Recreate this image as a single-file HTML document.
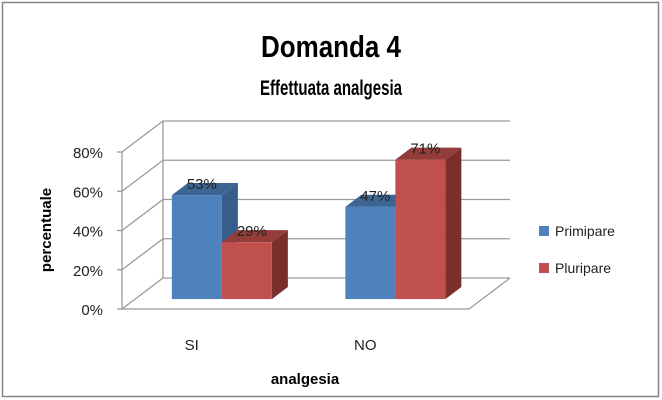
<!DOCTYPE html>
<html><head><meta charset="utf-8">
<style>
html,body{margin:0;padding:0;background:#fff;}
svg{display:block;font-family:"Liberation Sans",sans-serif;}
</style></head>
<body>
<svg id="chart" width="662" height="400" viewBox="0 0 662 400" xmlns="http://www.w3.org/2000/svg">
<rect x="2.5" y="2.5" width="656" height="394" fill="#fff" stroke="#868686" stroke-width="1.5"/>
<text x="331" y="57" text-anchor="middle" font-size="31" font-weight="bold" textLength="140" lengthAdjust="spacingAndGlyphs">Domanda 4</text>
<text x="331" y="95" text-anchor="middle" font-size="21" font-weight="bold" textLength="142" lengthAdjust="spacingAndGlyphs">Effettuata analgesia</text>
<g id="grid"></g>
<g id="axis"></g>
<g id="bars"></g>
<text transform="translate(51,230) rotate(-90)" text-anchor="middle" font-size="15" font-weight="bold">percentuale</text>
<text x="305" y="384" text-anchor="middle" font-size="15" font-weight="bold">analgesia</text>
<g>
<rect x="539" y="226" width="10" height="10" fill="#4F81BD"/>
<text x="555" y="236" font-size="14" fill="#222">Primipare</text>
<rect x="539" y="263" width="10" height="10" fill="#C0504D"/>
<text x="555" y="273" font-size="14" fill="#222">Pluripare</text>
</g>
</svg>
<script>
const categories = ["SI", "NO"];
const primipare = [53, 47];
const pluripare = [29, 71];
const tickValues = [0, 20, 40, 60, 80];
const tickLabels = ["0%", "20%", "40%", "60%", "80%"];
const labelsPrim = ["53%", "47%"];
const labelsPluri = ["29%", "71%"];

const NS = "http://www.w3.org/2000/svg";
const X0 = 122, X1 = 469, Y0 = 309, PX = 1.9625;
const DX = 41, DY = -31;
const F = 0.32, G = 0.71;
function yScale(v){ return Y0 - v * PX; }
function xCat(i){ return X0 + (X1 - X0) / categories.length * (i + 0.5); }
function mk(tag, attrs, parent){
  const e = document.createElementNS(NS, tag);
  for (const k in attrs) e.setAttribute(k, attrs[k]);
  parent.appendChild(e); return e;
}
const gridG = document.getElementById('grid');
const axisG = document.getElementById('axis');
const barsG = document.getElementById('bars');
const gc = "#9a9a9a";
tickValues.forEach((t, i) => {
  const yf = yScale(t), yb = yf + DY;
  let l = mk('line', {x1: X0 + DX, y1: yb, x2: X1 + DX, y2: yb, stroke: gc, 'stroke-width': 1.3}, gridG);
  
  
  let d = mk('line', {x1: X0, y1: yf, x2: X0 + DX, y2: yb, stroke: gc, 'stroke-width': 1.3}, gridG);
  
  
  let tk = mk('line', {x1: X0 - 5, y1: yf, x2: X0, y2: yf, stroke: gc, 'stroke-width': 1.3}, axisG);
  
  
  let tx = mk('text', {x: 103, y: yf + 6, 'text-anchor': 'end', 'font-size': 15, fill: '#222'}, axisG);
  tx.textContent = tickLabels[i];
  
  
});
const yTopVal = yScale(tickValues[tickValues.length - 1]);
let bv = mk('line', {x1: X0 + DX, y1: Y0 + DY, x2: X0 + DX, y2: yTopVal + DY, stroke: gc, 'stroke-width': 1.3}, gridG);


let fv = mk('line', {x1: X0, y1: Y0, x2: X0, y2: yTopVal, stroke: gc, 'stroke-width': 1.3}, axisG);


let fl = mk('polyline', {points: `${X0},${Y0} ${X1},${Y0} ${X1 + DX},${Y0 + DY}`, fill: 'none', stroke: gc, 'stroke-width': 1.3}, gridG);



const BW = 50;
function drawBar(cx, v, front, topC, side, name, label){
  const fx = F * DX, fy = F * DY, bx = G * DX, by = G * DY;
  const x = cx + fx, yb = Y0 + fy, yt = yScale(v) + fy;
  const ddx = bx - fx, ddy = by - fy;
  const g = mk('g', {}, barsG);
  
  
  mk('polygon', {points: `${x+BW},${yb} ${x+BW+ddx},${yb+ddy} ${x+BW+ddx},${yt+ddy} ${x+BW},${yt}`, fill: side}, g);
  mk('polygon', {points: `${x},${yt} ${x+ddx},${yt+ddy} ${x+BW+ddx},${yt+ddy} ${x+BW},${yt}`, fill: topC}, g);
  mk('rect', {x: x, y: yt, width: BW, height: yb - yt, fill: front}, g);
  const t = mk('text', {x: x + BW / 2 + 5, y: yt - 6, 'text-anchor': 'middle', 'font-size': 15, fill: '#222'}, barsG);
  t.textContent = label;
  
  
}
categories.forEach((c, i) => {
  const cx = xCat(i);
  drawBar(cx - BW, primipare[i], '#4F81BD', '#3D6592', '#385D8A', 'bar-primipare-' + c.toLowerCase(), labelsPrim[i]);
  drawBar(cx, pluripare[i], '#C0504D', '#943C3A', '#7A2F2D', 'bar-pluripare-' + c.toLowerCase(), labelsPluri[i]);
  const t = mk('text', {x: cx - 17, y: 350, 'text-anchor': 'middle', 'font-size': 15, fill: '#222'}, axisG);
  t.textContent = c;
  
  
});
</script>
</body></html>
